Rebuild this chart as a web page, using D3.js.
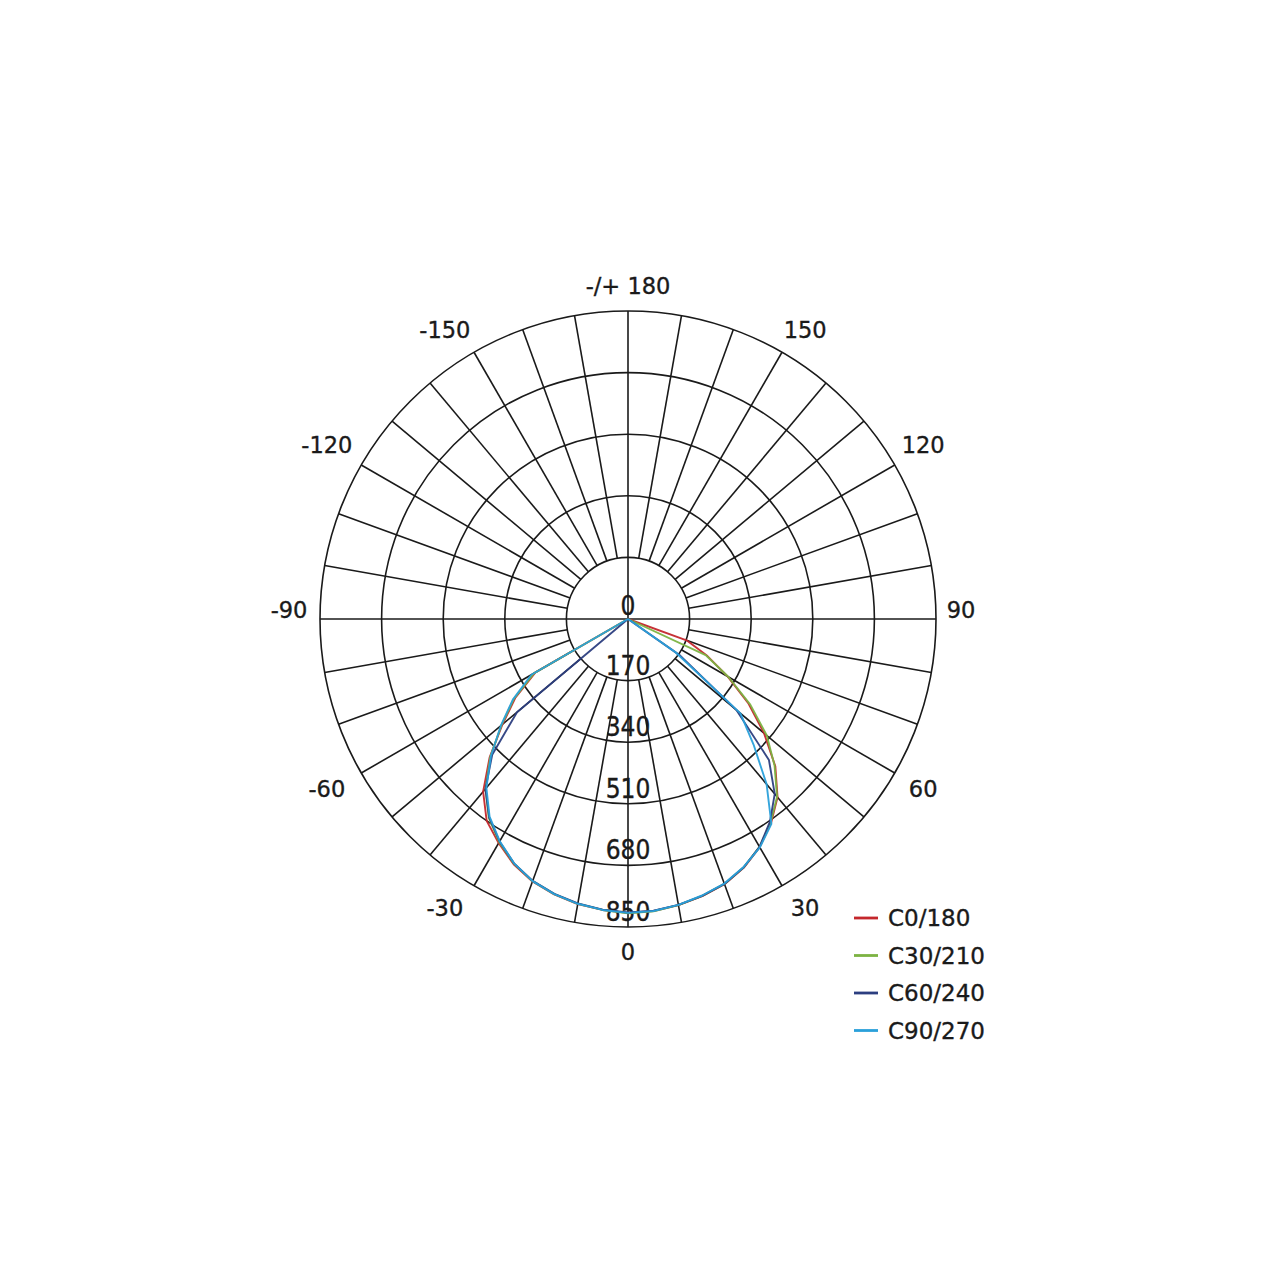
<!DOCTYPE html>
<html>
<head>
<meta charset="utf-8">
<script src="https://cdn.jsdelivr.net/npm/d3@7"></script>
<style>
  html, body { margin: 0; padding: 0; background: #fff; }
  svg { display: block; }
  .lbl { font-family: "DejaVu Sans", sans-serif; fill: #1a1a1a; stroke: #1a1a1a; stroke-width: 0.35px; }
  .ring { font-family: "DejaVu Sans Condensed", "DejaVu Sans", sans-serif; font-stretch: condensed; fill: #1a1a1a; stroke: #1a1a1a; stroke-width: 0.35px; }
</style>
</head>
<body>
<svg id="chart" width="1280" height="1280"></svg>
<script>
// ---- data ----
const gammas = [-90,-85,-80,-75,-70,-65,-60,-55,-50,-45,-40,-35,-30,-25,-20,-15,-10,-5,0,5,10,15,20,25,30,35,40,45,50,55,60,65,70,75,80,85,90];

const seriesNames = ["C0/180", "C30/210", "C60/240", "C90/270"];
const seriesColors = ["#c4272c", "#7cb342", "#2c3e80", "#2aa0da"];

const c0_180  = [0,0,0,0,0,0,295,380,452,540,622,680,714,747,771,787,799,806,811,809,802,792,779,757,727,688,642,575,490,405,318,242,172,0,0,0,0];
const c30_210 = [0,0,0,0,0,0,300,385,456,537,612,670,711,745,770,786,798,806,812,810,802,791,778,756,726,686,640,572,500,412,320,238,0,0,0,0,0];
const c60_240 = [0,0,0,0,0,0,0,0,400,530,612,668,709,744,769,785,797,805,810,808,801,791,778,756,726,683,630,550,390,175,0,0,0,0,0,0,0];
const c90_270 = [0,0,0,0,0,0,308,388,458,535,608,666,708,744,770,786,798,806,811,809,801,790,777,755,728,690,595,490,405,160,0,0,0,0,0,0,0];

const seriesValues = [c0_180, c30_210, c60_240, c90_270];

const ringTicks = [170, 340, 510, 680, 850];
const spokeAngles = [-170,-160,-150,-140,-130,-120,-110,-100,-90,-80,-70,-60,-50,-40,-30,-20,-10,0,10,20,30,40,50,60,70,80,90,100,110,120,130,140,150,160,170,180];
const angleTicks = [-150,-120,-90,-60,-30,0,30,60,90,120,150,180];
const angleTickLabels = ["-150","-120","-90","-60","-30","0","30","60","90","120","150","-/+ 180"];

// ---- layout ----
const cx = 628, cy = 619, R = 308;
const svg = d3.select("#chart");
svg.append("rect").attr("width", 1280).attr("height", 1280).attr("fill", "#fff");
const g = svg.append("g").attr("transform", `translate(${cx},${cy})`);

const r = d3.scaleLinear().domain([0, 850]).range([0, R]);
// gamma 0 at bottom, positive to the right (d3 radial angle: 0 = up, clockwise)
const a = d3.scaleLinear().domain([-180, 180]).range([2 * Math.PI, 0]);

const gridColor = "#1a1a1a";

// rings
g.selectAll("circle.ringc").data(ringTicks).join("circle")
  .attr("class", "ringc")
  .attr("r", d => r(d))
  .attr("fill", "none")
  .attr("stroke", gridColor)
  .attr("stroke-width", 1.6);

// spokes (main axes pass through the centre, the others start at the first ring)
g.selectAll("line.spoke").data(spokeAngles).join("line")
  .attr("class", "spoke")
  .attr("x1", d => (d % 90 === 0 ? 0 : r(170)) * Math.sin(a(d)))
  .attr("y1", d => -(d % 90 === 0 ? 0 : r(170)) * Math.cos(a(d)))
  .attr("x2", d => r(850) * Math.sin(a(d)))
  .attr("y2", d => -r(850) * Math.cos(a(d)))
  .attr("stroke", gridColor)
  .attr("stroke-width", 1.6);

// angle labels
g.selectAll("text.ang").data(angleTicks).join("text")
  .attr("class", "lbl ang")
  .attr("font-size", 22.5)
  .attr("text-anchor", "middle")
  .attr("dominant-baseline", "central")
  .each(function(d) {
    let ang = a(d);
    let rr = 333 + 9 * Math.abs(Math.sin(2 * ang));
    if (Math.abs(d) === 30 || Math.abs(d) === 150) {
      // nudge labels near the vertical axis a little towards the horizontal
      const s = Math.sin(ang), c = -Math.cos(ang);
      const dir = (s > 0 ? 1 : -1) * (c > 0 ? 1 : -1);
      ang -= dir * 1.5 * Math.PI / 180;
      rr = 339;
    }
    let x = rr * Math.sin(ang);
    let y = -rr * Math.cos(ang);
    if (d < 0 && d > -180) x -= 6;
    if (Math.abs(d) === 90) y -= 9;
    if (Math.abs(d) === 120) y -= 4;
    d3.select(this).attr("x", x).attr("y", y);
  })
  .text((d, i) => angleTickLabels[i]);

// ring value labels
const ringLabelValues = [0].concat(ringTicks);
g.selectAll("text.ringl").data(ringLabelValues).join("text")
  .attr("class", "ring ringl")
  .attr("font-size", 26)
  .attr("text-anchor", "middle")
  .attr("dominant-baseline", "central")
  .attr("x", 0)
  .attr("y", d => d === 0 ? -13 : r(d) - 15)
  .text(d => d);

// curves
const line = d3.lineRadial()
  .angle(d => a(d[0]))
  .radius(d => r(d[1]))
  .curve(d3.curveLinear);

seriesValues.forEach((vals, i) => {
  const pts = gammas.map((gm, j) => [gm, vals[j]]);
  g.append("path")
    .attr("d", line(pts))
    .attr("fill", "none")
    .attr("stroke", seriesColors[i])
    .attr("stroke-width", 1.9)
    .attr("stroke-linejoin", "round")
    .attr("opacity", 0.95);
});

// legend
const lg = svg.append("g");
seriesNames.forEach((name, i) => {
  const y = 918 + i * 37.5;
  lg.append("line")
    .attr("x1", 854).attr("x2", 878).attr("y1", y).attr("y2", y)
    .attr("stroke", seriesColors[i]).attr("stroke-width", 2.8);
  lg.append("text")
    .attr("class", "lbl")
    .attr("font-size", 23)
    .attr("x", 888).attr("y", y)
    .attr("dominant-baseline", "central")
    .text(name);
});
</script>
</body>
</html>
